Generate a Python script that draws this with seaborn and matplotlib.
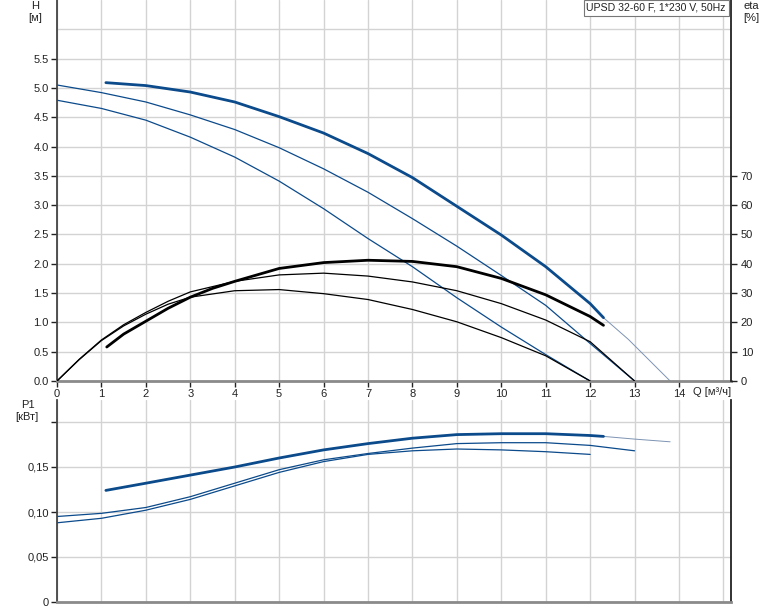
import matplotlib
matplotlib.use("Agg")
import matplotlib.pyplot as plt
import seaborn as sns
import pandas as pd

# --- head curves H [m] ---
q_h_max = [1.1, 2, 3, 4, 5, 6, 7, 8, 9, 10, 11, 12, 12.3]
h_max = [5.09, 5.04, 4.93, 4.76, 4.51, 4.23, 3.88, 3.47, 2.98, 2.49, 1.95, 1.32, 1.08]
q_h_max_ext = [12.3, 12.86, 13.8]
h_max_ext = [1.08, 0.71, 0.0]
q_h_mid = [0, 1, 2, 3, 4, 5, 6, 7, 8, 9, 10, 11, 12, 13]
h_mid = [5.05, 4.92, 4.76, 4.54, 4.29, 3.98, 3.62, 3.22, 2.77, 2.30, 1.80, 1.29, 0.64, 0.0]
q_h_min = [0, 1, 2, 3, 4, 5, 6, 7, 8, 9, 10, 11, 12]
h_min = [4.79, 4.65, 4.45, 4.16, 3.82, 3.41, 2.94, 2.43, 1.95, 1.42, 0.92, 0.45, 0.0]

# --- efficiency curves eta [%] ---
q_eta_max = [1.12, 1.5, 2, 2.5, 3, 3.5, 4, 5, 6, 7, 8, 9, 10, 11, 12, 12.3]
eta_max = [11.6, 16.0, 20.4, 24.8, 28.6, 31.6, 34.0, 38.4, 40.4, 41.2, 40.8, 39.0, 35.0, 29.4, 22.0, 19.0]
q_eta_mid = [0, 0.5, 1, 1.5, 2, 2.5, 3, 4, 5, 6, 7, 8, 9, 10, 11, 12, 13]
eta_mid = [0, 7.4, 14.0, 19.2, 23.4, 27.2, 30.4, 34.0, 36.2, 36.8, 35.8, 33.8, 30.8, 26.4, 20.8, 13.4, 0]
q_eta_min = [0, 0.5, 1, 1.5, 2, 2.5, 3, 4, 5, 6, 7, 8, 9, 10, 11, 12]
eta_min = [0, 7.3, 13.8, 18.8, 22.8, 26.2, 28.6, 30.8, 31.2, 29.8, 27.8, 24.4, 20.2, 14.8, 8.6, 0]

# --- power curves P1 [kW] ---
q_p_max = [1.1, 2, 3, 4, 5, 6, 7, 8, 9, 10, 11, 12, 12.3]
p_max = [0.124, 0.132, 0.141, 0.150, 0.160, 0.169, 0.176, 0.182, 0.186, 0.187, 0.187, 0.185, 0.184]
q_p_max_ext = [12.3, 13, 13.8]
p_max_ext = [0.184, 0.181, 0.178]
q_p_mid = [0, 1, 2, 3, 4, 5, 6, 7, 8, 9, 10, 11, 12, 13]
p_mid = [0.095, 0.0985, 0.105, 0.117, 0.132, 0.147, 0.158, 0.165, 0.171, 0.176, 0.177, 0.177, 0.174, 0.168]
q_p_min = [0, 1, 2, 3, 4, 5, 6, 7, 8, 9, 10, 11, 12]
p_min = [0.088, 0.093, 0.102, 0.114, 0.129, 0.144, 0.156, 0.164, 0.168, 0.170, 0.169, 0.167, 0.164]

h_ticks = [0, 0.5, 1, 1.5, 2, 2.5, 3, 3.5, 4, 4.5, 5, 5.5]
eta_ticks = [0, 10, 20, 30, 40, 50, 60, 70]
p_ticks = [0, 0.05, 0.10, 0.15, 0.20]
p_labels = ["0", "0,05", "0,10", "0,15", ""]
q_ticks = list(range(15))
title = "UPSD 32-60 F, 1*230 V, 50Hz"

BLUE = "#0b4a8b"
EXT = "#7d93b3"
GRID = "#d3d3d3"

sns.set_style("white")
plt.rcParams["font.family"] = ["Liberation Sans", "DejaVu Sans"]
plt.rcParams["font.size"] = 8

W, H = 774, 611
fig = plt.figure(figsize=(W / 100, H / 100), dpi=100)
ax_h = fig.add_axes([57 / W, 230 / H, 674 / W, 381 / H])
ax_p = fig.add_axes([57 / W, 9 / H, 674 / W, 202 / H])
ax_e = ax_h.twinx()

xmax = 674 / 44.43


def curve(ax, q, v, color, lw):
    df = pd.DataFrame({"Q": q, "v": v})
    sns.lineplot(data=df, x="Q", y="v", ax=ax, color=color, linewidth=lw,
                 sort=False, estimator=None, legend=False)


curve(ax_h, q_h_min, h_min, BLUE, 0.9)
curve(ax_h, q_h_mid, h_mid, BLUE, 0.9)
curve(ax_h, q_h_max_ext, h_max_ext, EXT, 0.7)
curve(ax_h, q_h_max, h_max, BLUE, 2.0)
curve(ax_e, q_eta_min, eta_min, "black", 0.9)
curve(ax_e, q_eta_mid, eta_mid, "black", 0.9)
curve(ax_e, q_eta_max, eta_max, "black", 2.0)
curve(ax_p, q_p_min, p_min, BLUE, 0.9)
curve(ax_p, q_p_mid, p_mid, BLUE, 0.9)
curve(ax_p, q_p_max_ext, p_max_ext, EXT, 0.7)
curve(ax_p, q_p_max, p_max, BLUE, 2.0)

# head axis
ax_h.set_xlim(0, xmax)
ax_h.set_ylim(0, 6.5)
ax_h.set_yticks(h_ticks)
ax_h.set_yticklabels([f"{t:.1f}" for t in h_ticks])
ax_h.set_xticks(q_ticks)
ax_h.set_xticklabels([str(t) for t in q_ticks])
ax_h.grid(True, color=GRID, lw=1)
ax_h.axhline(6.0, color=GRID, lw=1, zorder=0)
ax_h.axvline(15, color=GRID, lw=1, zorder=0)
ax_h.set_xlabel("")
ax_h.set_ylabel("")
ax_h.tick_params(axis="both", length=4, width=1, colors="#222222", labelsize=8, pad=2,
                 left=True, bottom=True)

ax_e.set_ylim(0, 130)
ax_e.set_yticks(eta_ticks)
ax_e.set_ylabel("")
ax_e.tick_params(axis="y", length=4, width=1, colors="#222222", labelsize=8, pad=3, right=True)

for a in (ax_h, ax_e):
    a.spines["top"].set_visible(False)
ax_h.spines["right"].set_visible(False)
ax_e.spines["left"].set_visible(False)
ax_e.spines["bottom"].set_visible(False)
ax_h.spines["left"].set_color("#444444")
ax_h.spines["left"].set_linewidth(1.3)
ax_h.spines["bottom"].set_color("#8a8a8a")
ax_h.spines["bottom"].set_linewidth(2)
ax_e.spines["right"].set_color("#222222")
ax_e.spines["right"].set_linewidth(1.3)

# power axis
ax_p.set_xlim(0, xmax)
ax_p.set_ylim(0, 202 / 900)
ax_p.set_xticks(q_ticks + [15])
ax_p.set_xticklabels([])
ax_p.set_yticks(p_ticks)
ax_p.set_yticklabels(p_labels)
ax_p.set_xlabel("")
ax_p.set_ylabel("")
ax_p.grid(True, color=GRID, lw=1)
ax_p.tick_params(axis="x", length=0)
ax_p.tick_params(axis="y", length=4, width=1, colors="#222222", labelsize=8, pad=2, left=True)
ax_p.spines["top"].set_visible(False)
ax_p.spines["left"].set_color("#444444")
ax_p.spines["left"].set_linewidth(1.3)
ax_p.spines["right"].set_color("#222222")
ax_p.spines["right"].set_linewidth(1.3)
ax_p.spines["bottom"].set_color("#8a8a8a")
ax_p.spines["bottom"].set_linewidth(2)


def ftxt(x, y, s, **kw):
    fig.text(x / W, 1 - y / H, s, ha="center", va="center", fontsize=8, color="#222222", **kw)


ftxt(35, 6, "H")
ftxt(35, 18, "[м]")
ftxt(751, 6, "eta")
ftxt(751, 18, "[%]")
ftxt(28, 405, "P1")
ftxt(27, 417, "[кВт]")
fig.text(693 / W, 1 - 392 / H, "Q [м³/ч]", ha="left", va="center", fontsize=8, color="#222222")
fig.text(726 / W, 1 - 8 / H, title, ha="right", va="center", fontsize=7.6, color="#222222",
         bbox=dict(boxstyle="square,pad=0.25", fc="white", ec="#777777", lw=0.8))

fig.savefig("out.png", dpi=100)
